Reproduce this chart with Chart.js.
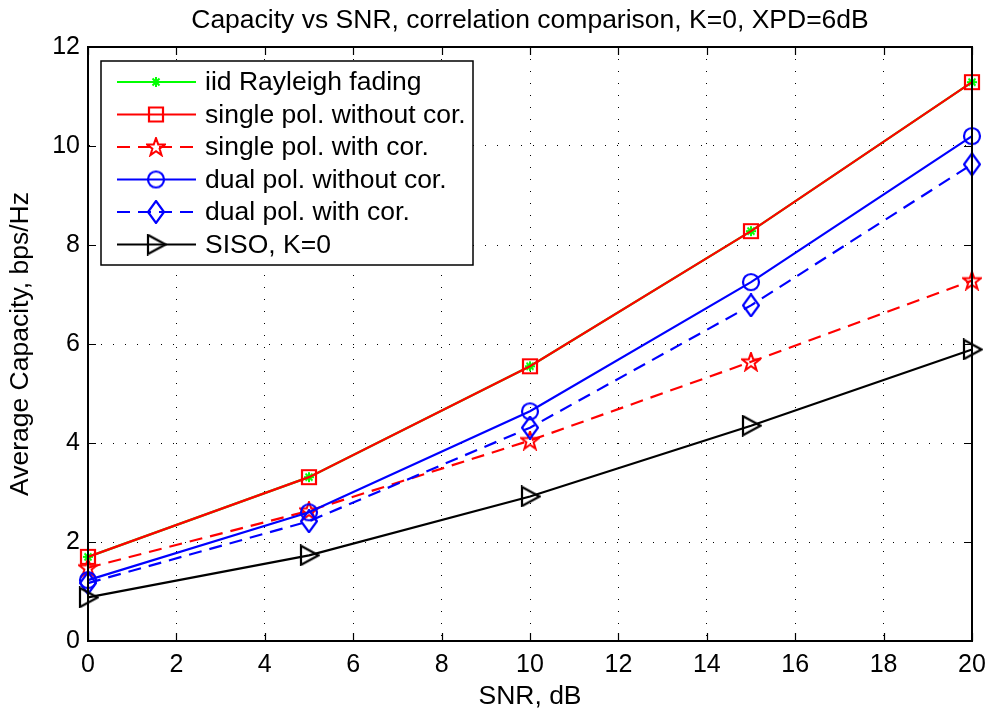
<!DOCTYPE html>
<html>
<head>
<meta charset="utf-8">
<script src="https://cdn.jsdelivr.net/npm/chart.js@4/dist/chart.umd.min.js"></script>
<style>
  html, body { margin: 0; padding: 0; background: #fff; }
  #wrap { width: 995px; height: 715px; }
</style>
</head>
<body>
<div id="wrap"><canvas id="capChart" width="995" height="715"></canvas></div>
<script>
// SNR points (dB)
const snr = [0, 5, 10, 15, 20];

// average capacity, bps/Hz
const iidRayleigh    = [1.70, 3.31, 5.55, 8.28, 11.29];
const singleNoCor    = [1.70, 3.31, 5.55, 8.28, 11.29];
const singleWithCor  = [1.48, 2.63, 4.05, 5.64, 7.28];
const dualNoCor      = [1.23, 2.60, 4.64, 7.25, 10.20];
const dualWithCor    = [1.17, 2.42, 4.31, 6.78, 9.63];
const sisoK0         = [0.88, 1.73, 2.92, 4.35, 5.89];

const xTicks = [0, 2, 4, 6, 8, 10, 12, 14, 16, 18, 20];
const yTicks = [0, 2, 4, 6, 8, 10, 12];

const seriesNames = [
    'iid Rayleigh fading',
    'single pol. without cor.',
    'single pol. with cor.',
    'dual pol. without cor.',
    'dual pol. with cor.',
    'SISO, K=0'
];

const FONT = '"Liberation Sans", Arial, Helvetica, sans-serif';
const RED = '#ff0000';
const GREEN = '#00ff00';
const BLUE = '#0000ff';
const DASH = [13, 8];

// small canvases used as point markers (matlab style)
function makeMarker(type, color) {
    const c = document.createElement('canvas');
    let w = 20, h = 20;
    if (type === 'diamond') { w = 18; h = 24; }
    if (type === 'triangle') { w = 22; h = 22; }
    if (type === 'asterisk') { w = 12; h = 12; }
    c.width = w; c.height = h;
    const g = c.getContext('2d');
    g.strokeStyle = color;
    g.lineWidth = 2.2;
    g.lineJoin = 'miter';
    g.beginPath();
    if (type === 'square') {
        g.rect(3, 3, 14, 14);
    } else if (type === 'circle') {
        g.arc(10, 10, 8, 0, Math.PI * 2);
    } else if (type === 'diamond') {
        g.moveTo(9, 1); g.lineTo(17, 12); g.lineTo(9, 23); g.lineTo(1, 12); g.closePath();
    } else if (type === 'triangle') {
        g.moveTo(3, 1.5); g.lineTo(20.5, 11); g.lineTo(3, 20.5); g.closePath();
    } else if (type === 'pentagram') {
        g.lineWidth = 2;
        for (let i = 0; i < 10; i++) {
            const r = i % 2 === 0 ? 9.5 : 3.8;
            const a = -Math.PI / 2 + i * Math.PI / 5;
            const px = 10 + r * Math.cos(a), py = 10.5 + r * Math.sin(a);
            if (i === 0) g.moveTo(px, py); else g.lineTo(px, py);
        }
        g.closePath();
    } else if (type === 'asterisk') {
        g.lineWidth = 2;
        g.moveTo(6, 1); g.lineTo(6, 11);
        g.moveTo(1, 6); g.lineTo(11, 6);
        g.moveTo(2.5, 2.5); g.lineTo(9.5, 9.5);
        g.moveTo(9.5, 2.5); g.lineTo(2.5, 9.5);
    }
    g.stroke();
    return c;
}

const markers = [
    makeMarker('asterisk', GREEN),
    makeMarker('square', RED),
    makeMarker('pentagram', RED),
    makeMarker('circle', BLUE),
    makeMarker('diamond', BLUE),
    makeMarker('triangle', '#000')
];

function toXY(ys) {
    return snr.map((x, i) => ({ x: x, y: ys[i] }));
}

function lineSet(label, ys, color, marker, dashed, order) {
    return {
        label: label,
        data: toXY(ys),
        borderColor: color,
        backgroundColor: color,
        borderWidth: 2.2,
        borderDash: dashed ? DASH : [],
        pointStyle: marker,
        pointRadius: 8,
        pointHoverRadius: 8,
        tension: 0,
        fill: false,
        clip: false,
        order: order
    };
}

// title, box, inward ticks and legend
const matlabLook = {
    id: 'matlabLook',
    afterDraw(chart) {
        const ctx = chart.ctx;
        const a = chart.chartArea;
        const xs = chart.scales.x, ys = chart.scales.y;
        ctx.save();

        // title
        ctx.fillStyle = '#000';
        ctx.font = '26.5px ' + FONT;
        ctx.textAlign = 'center';
        ctx.textBaseline = 'alphabetic';
        ctx.fillText('Capacity vs SNR, correlation comparison, K=0, XPD=6dB', (a.left + a.right) / 2, 28);

        // axes box
        ctx.strokeStyle = '#000';
        ctx.lineWidth = 2;
        ctx.strokeRect(a.left, a.top, a.right - a.left, a.bottom - a.top);

        // inward ticks
        const tl = 8;
        ctx.lineWidth = 1.2;
        ctx.beginPath();
        xTicks.forEach(v => {
            const px = Math.round(xs.getPixelForValue(v)) + 0.5;
            ctx.moveTo(px, a.bottom); ctx.lineTo(px, a.bottom - tl);
            ctx.moveTo(px, a.top); ctx.lineTo(px, a.top + tl);
        });
        yTicks.forEach(v => {
            const py = Math.round(ys.getPixelForValue(v)) + 0.5;
            ctx.moveTo(a.left, py); ctx.lineTo(a.left + tl, py);
            ctx.moveTo(a.right, py); ctx.lineTo(a.right - tl, py);
        });
        ctx.stroke();

        // legend
        const lx = 101, ly = 61, lw = 372, lh = 204;
        ctx.fillStyle = '#fff';
        ctx.fillRect(lx, ly, lw, lh);
        ctx.strokeStyle = '#000';
        ctx.lineWidth = 1.5;
        ctx.strokeRect(lx, ly, lw, lh);

        ctx.font = '26.5px ' + FONT;
        ctx.textAlign = 'left';
        ctx.textBaseline = 'middle';
        chart.data.datasets.forEach((ds, i) => {
            const cy = 82 + i * 32.5;
            ctx.strokeStyle = ds.borderColor;
            ctx.lineWidth = 2.2;
            ctx.setLineDash(ds.borderDash);
            ctx.beginPath();
            ctx.moveTo(117, cy); ctx.lineTo(196, cy);
            ctx.stroke();
            ctx.setLineDash([]);
            const m = markers[i];
            ctx.drawImage(m, 156 - m.width / 2, cy - m.height / 2);
            ctx.fillStyle = '#000';
            ctx.fillText(seriesNames[i], 205, cy + 1);
        });
        ctx.restore();
    }
};

const ctx = document.getElementById('capChart').getContext('2d');

new Chart(ctx, {
    type: 'line',
    data: {
        datasets: [
            lineSet(seriesNames[0], iidRayleigh, GREEN, markers[0], false, 6),
            lineSet(seriesNames[1], singleNoCor, RED, markers[1], false, 5),
            lineSet(seriesNames[2], singleWithCor, RED, markers[2], true, 4),
            lineSet(seriesNames[3], dualNoCor, BLUE, markers[3], false, 3),
            lineSet(seriesNames[4], dualWithCor, BLUE, markers[4], true, 2),
            lineSet(seriesNames[5], sisoK0, '#000', markers[5], false, 1)
        ]
    },
    options: {
        responsive: false,
        animation: false,
        devicePixelRatio: 1,
        layout: {
            padding: { top: 47, right: 23, left: 0, bottom: 0 }
        },
        plugins: {
            legend: { display: false },
            title: { display: false },
            tooltip: { enabled: false }
        },
        scales: {
            x: {
                type: 'linear',
                min: 0,
                max: 20,
                afterBuildTicks: axis => { axis.ticks = xTicks.map(v => ({ value: v })); },
                afterFit: axis => { axis.height = 74; },
                ticks: {
                    color: '#000',
                    font: { family: FONT, size: 25 },
                    padding: 9,
                    maxRotation: 0
                },
                grid: {
                    color: '#000',
                    lineWidth: 1,
                    drawTicks: false
                },
                border: { display: true, color: '#000', width: 2, dash: [1, 11] },
                title: {
                    display: true,
                    text: 'SNR, dB',
                    color: '#000',
                    font: { family: FONT, size: 26.5 },
                    padding: { top: 0, bottom: 2 }
                }
            },
            y: {
                type: 'linear',
                min: 0,
                max: 12,
                afterBuildTicks: axis => { axis.ticks = yTicks.map(v => ({ value: v })); },
                afterFit: axis => { axis.width = 88; },
                ticks: {
                    color: '#000',
                    font: { family: FONT, size: 25 },
                    padding: 8
                },
                grid: {
                    color: '#000',
                    lineWidth: 1,
                    drawTicks: false
                },
                border: { display: true, color: '#000', width: 2, dash: [1, 11] },
                title: {
                    display: true,
                    text: 'Average Capacity, bps/Hz',
                    color: '#000',
                    font: { family: FONT, size: 26.5 },
                    padding: { top: 5, bottom: 0 }
                }
            }
        }
    },
    plugins: [matlabLook]
});
</script>
</body>
</html>
